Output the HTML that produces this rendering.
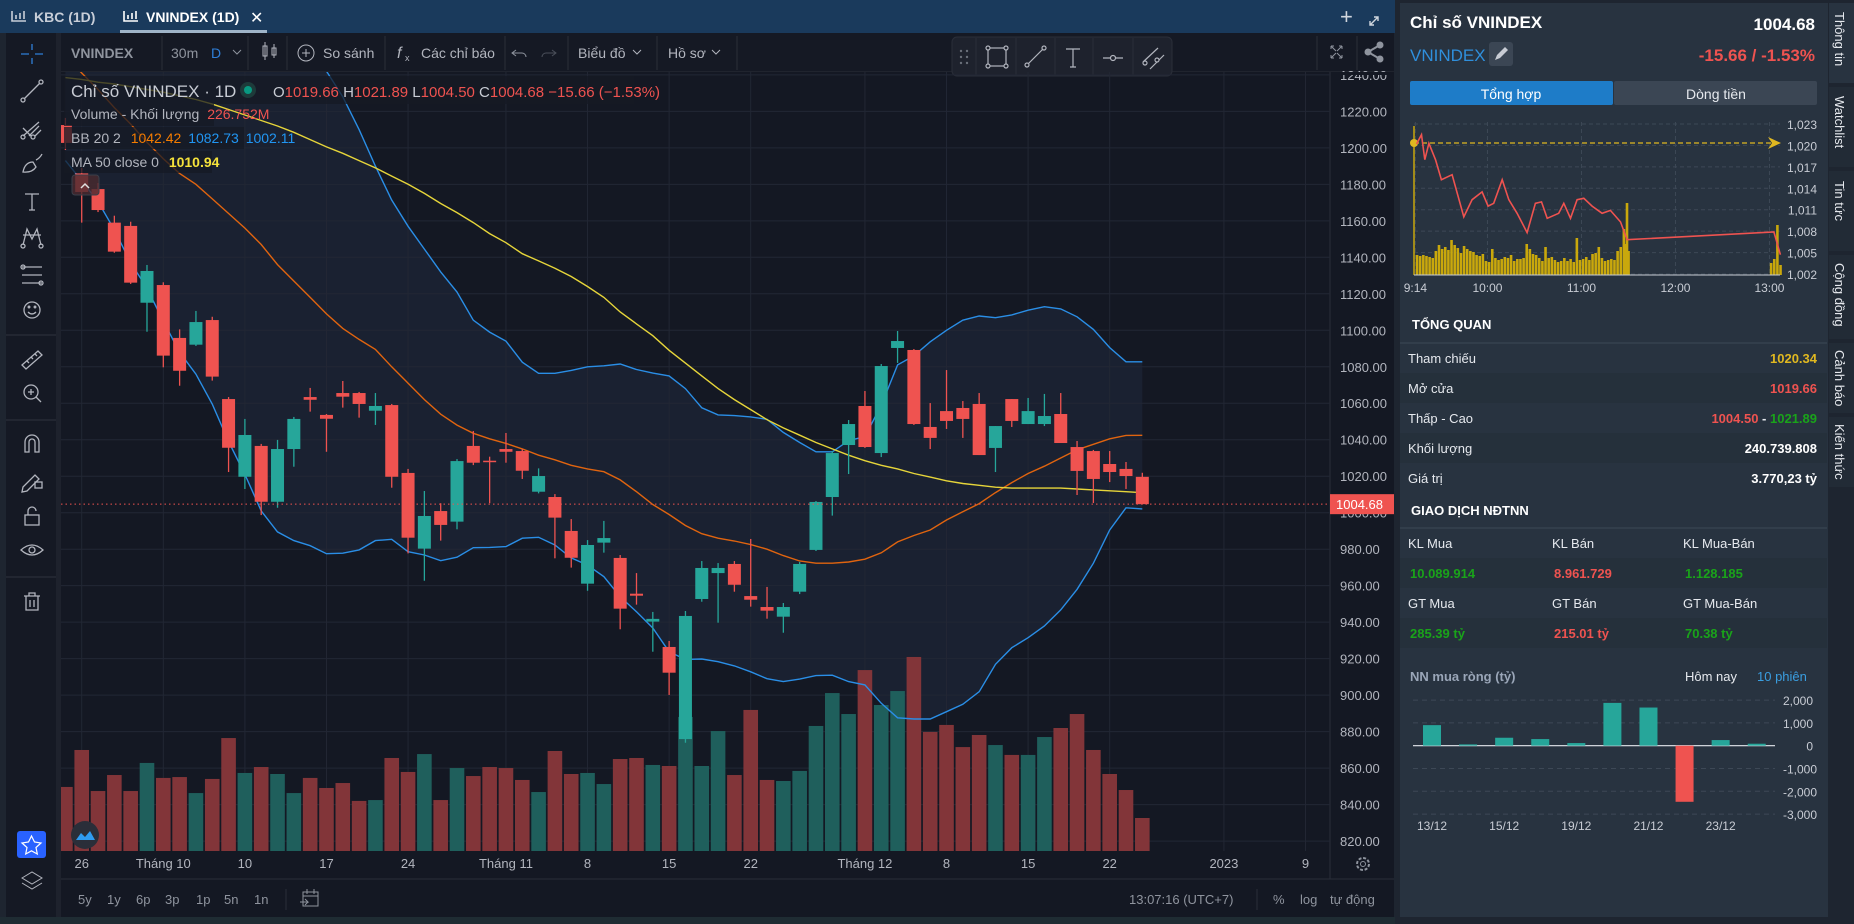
<!DOCTYPE html>
<html><head><meta charset="utf-8">
<style>
html,body{margin:0;padding:0;background:#1e2530;width:1854px;height:924px;overflow:hidden;}
svg{display:block;font-family:"Liberation Sans",sans-serif;}
</style></head>
<body>
<svg id="root" width="1854" height="924" viewBox="0 0 1854 924" xmlns="http://www.w3.org/2000/svg">
<defs>
 <clipPath id="plotClip"><rect x="61" y="72" width="1269" height="779"/></clipPath>
 <clipPath id="miniClip"><rect x="1412" y="118" width="372" height="160"/></clipPath>
</defs>
<rect x="0" y="0" width="1854" height="924" fill="#1e2530"/>
<!-- tab bar -->
<rect x="0" y="0" width="1395" height="33" fill="#1a3a5c"/>
<g>
 <path d="M12 11 v10 h14 M16 19 v-4 M20 19 v-6 M24 19 v-8" stroke="#c8ced8" stroke-width="1.6" fill="none"/>
 <text x="34" y="22" font-size="14" font-weight="bold" fill="#c8ced8">KBC (1D)</text>
</g>
<g>
 <path d="M124 11 v10 h14 M128 19 v-4 M132 19 v-6 M136 19 v-8" stroke="#ffffff" stroke-width="1.6" fill="none"/>
 <text x="146" y="22" font-size="14" font-weight="bold" fill="#ffffff">VNINDEX (1D)</text>
 <rect x="120" y="30" width="147" height="3" fill="#9fb4c8"/>
</g>
<text x="250" y="23" font-size="16" fill="#ffffff">✕</text>
<text x="1340" y="24" font-size="22" fill="#d0d6de">+</text>
<path d="M1370 25 l8 -8 M1374 17 h4 v4 M1370 21 v4 h4" stroke="#d0d6de" stroke-width="1.4" fill="none"/>

<!-- chart frame -->
<rect x="6" y="33" width="1388" height="884" fill="#171b26"/>
<rect x="6" y="33" width="50" height="884" fill="#151924"/>
<rect x="56" y="33" width="5" height="884" fill="#1e222d"/>
<rect x="61" y="33" width="1333" height="39" fill="#151924"/>
<line x1="61" y1="72" x2="1394" y2="72" stroke="#2a2e39"/>
<rect x="61" y="72" width="1269" height="779" fill="#141823"/>
<rect x="61" y="851" width="1333" height="28" fill="#141823"/>
<rect x="1330" y="72" width="64" height="779" fill="#141823"/>
<line x1="1330" y1="72" x2="1330" y2="879" stroke="#2a2e39"/>
<rect x="61" y="879" width="1333" height="38" fill="#141823"/>
<line x1="61" y1="879" x2="1394" y2="879" stroke="#2a2e39"/>
<rect x="0" y="917" width="1395" height="7" fill="#1f2c33"/>

<!-- header toolbar items -->
<g fill="#b2b5be" font-size="14">
 <text x="71" y="58" font-weight="bold" fill="#8f949e">VNINDEX</text>
 <line x1="162" y1="36" x2="162" y2="70" stroke="#2a2e39"/>
 <text x="171" y="58" fill="#8f949e">30m</text>
 <text x="211" y="58" fill="#2f7fd8">D</text>
 <path d="M233 50 l4 4 l4 -4" stroke="#8f949e" fill="none"/>
 <line x1="248" y1="36" x2="248" y2="70" stroke="#2a2e39"/>
 <g stroke="#b2b5be" fill="none"><rect x="263" y="46" width="4" height="10"/><line x1="265" y1="42" x2="265" y2="60"/><rect x="272" y="48" width="4" height="7"/><line x1="274" y1="44" x2="274" y2="58"/></g>
 <line x1="287" y1="36" x2="287" y2="70" stroke="#2a2e39"/>
 <g><circle cx="306" cy="53" r="8" stroke="#b2b5be" fill="none"/><path d="M302 53 h8 M306 49 v8" stroke="#b2b5be"/><text x="323" y="58">So sánh</text></g>
 <line x1="385" y1="36" x2="385" y2="70" stroke="#2a2e39"/>
 <g><text x="397" y="58" font-style="italic" font-size="16">f</text><text x="405" y="61" font-size="9">x</text><text x="421" y="58">Các chỉ báo</text></g>
 <line x1="505" y1="36" x2="505" y2="70" stroke="#2a2e39"/>
 <path d="M516 50 l-4 3 l4 3 M512 53 h10 a4 4 0 0 1 4 4" stroke="#8f949e" fill="none"/>
 <path d="M552 50 l4 3 l-4 3 M556 53 h-10 a4 4 0 0 0 -4 4" stroke="#4a4f5a" fill="none"/>
 <line x1="568" y1="36" x2="568" y2="70" stroke="#2a2e39"/>
 <g><text x="578" y="58">Biểu đồ</text><path d="M633 50 l4 4 l4 -4" stroke="#b2b5be" fill="none"/></g>
 <line x1="657" y1="36" x2="657" y2="70" stroke="#2a2e39"/>
 <g><text x="668" y="58">Hồ sơ</text><path d="M712 50 l4 4 l4 -4" stroke="#b2b5be" fill="none"/></g>
 <line x1="737" y1="36" x2="737" y2="70" stroke="#2a2e39"/>
</g>
<!-- floating drawing toolbar -->
<g>
 <rect x="952" y="37" width="220" height="39" rx="5" fill="#1e222d" stroke="#2a2e39"/>
 <g fill="#6a6f7a"><circle cx="961" cy="51" r="1.2"/><circle cx="967" cy="51" r="1.2"/><circle cx="961" cy="57" r="1.2"/><circle cx="967" cy="57" r="1.2"/><circle cx="961" cy="63" r="1.2"/><circle cx="967" cy="63" r="1.2"/></g>
 <g stroke="#2a2e39"><line x1="976" y1="38" x2="976" y2="75"/><line x1="1016" y1="38" x2="1016" y2="75"/><line x1="1055" y1="38" x2="1055" y2="75"/><line x1="1093" y1="38" x2="1093" y2="75"/><line x1="1133" y1="38" x2="1133" y2="75"/></g>
 <g stroke="#b2b5be" fill="none" stroke-width="1.2">
  <g><rect x="988" y="48" width="18" height="18"/><circle cx="988" cy="48" r="2" fill="#1e222d"/><circle cx="1006" cy="48" r="2" fill="#1e222d"/><circle cx="988" cy="66" r="2" fill="#1e222d"/><circle cx="1006" cy="66" r="2" fill="#1e222d"/></g>
  <g><line x1="1027" y1="65" x2="1044" y2="48"/><circle cx="1027" cy="65" r="2" fill="#1e222d"/><circle cx="1044" cy="48" r="2" fill="#1e222d"/></g>
  <g><path d="M1066 49 h14 M1073 49 v18 M1070 67 h6"/></g>
  <g><line x1="1103" y1="58" x2="1123" y2="58"/><circle cx="1113" cy="58" r="2.5" fill="#1e222d"/></g>
  <g><line x1="1143" y1="62" x2="1158" y2="48"/><line x1="1150" y1="69" x2="1164" y2="55"/><circle cx="1145" cy="63" r="2" fill="#1e222d"/><circle cx="1157" cy="60" r="2" fill="#1e222d"/></g>
 </g>
</g>
<line x1="1317" y1="36" x2="1317" y2="70" stroke="#2a2e39"/>
<path d="M1331 46 l5 5 M1331 46 h3 M1331 46 v3 M1342 46 l-5 5 M1342 46 h-3 M1342 46 v3 M1331 58 l5 -5 M1331 58 h3 M1331 58 v-3 M1342 58 l-5 -5 M1342 58 h-3 M1342 58 v-3" stroke="#8f949e" fill="none"/>
<line x1="1357" y1="36" x2="1357" y2="70" stroke="#2a2e39"/>
<g fill="#8f949e"><circle cx="1368" cy="52" r="3.5"/><circle cx="1380" cy="45" r="3.5"/><circle cx="1380" cy="59" r="3.5"/><path d="M1368 52 L1380 45 M1368 52 L1380 59" stroke="#8f949e" stroke-width="2"/></g>

<!-- left toolbar icons -->
<g stroke="#b2b5be" fill="none" stroke-width="1.3">
 <g stroke="#2f7fd8"><path d="M21 54 h8 M35 54 h8 M32 44 v6 M32 58 v6"/></g>
 <g><line x1="24" y1="99" x2="40" y2="83"/><circle cx="23" cy="100" r="2"/><circle cx="41" cy="82" r="2"/></g>
 <g><path d="M23 136 l16 -14 M23 128 l8 8 M29 136 l10 -10 M35 136 l6 -6"/><circle cx="23" cy="137" r="2"/><circle cx="33" cy="137" r="2"/></g>
 <g><path d="M23 172 q2 -10 10 -10 l3 5 q-4 6 -13 5 z M36 160 q4 -2 6 -6"/></g>
 <g><path d="M25 194 h14 M32 194 v16 M29 210 h6"/></g>
 <g><path d="M23 245 l4 -16 l5 10 l5 -10 l4 16 M23 235 h18"/><circle cx="23" cy="246" r="2"/><circle cx="41" cy="246" r="2"/></g>
 <g><path d="M22 267 h20 M22 275 h20 M22 283 h20"/><circle cx="23" cy="267" r="2"/><circle cx="41" cy="283" r="2"/></g>
 <g><circle cx="32" cy="310" r="8"/><path d="M28 312 q4 4 8 0"/><circle cx="29" cy="307" r="0.8"/><circle cx="35" cy="307" r="0.8"/></g>
 <line x1="6" y1="335" x2="56" y2="335" stroke="#2a2e39"/>
 <g><path d="M22 365 l16 -14 l4 4 l-16 14 z M27 361 l2 2 M31 357 l2 2 M35 354 l2 2"/></g>
 <g><circle cx="31" cy="392" r="7"/><path d="M36 397 l5 5 M28 392 h6 M31 389 v6"/></g>
 <line x1="6" y1="420" x2="56" y2="420" stroke="#2a2e39"/>
 <g><path d="M25 452 v-10 a7 7 0 0 1 14 0 v10 h-4 v-10 a3 3 0 0 0 -6 0 v10 z"/></g>
 <g><path d="M23 487 l12 -12 l4 4 l-12 12 l-5 1 z"/><rect x="35" y="482" width="7" height="6"/></g>
 <g><rect x="25" y="515" width="14" height="10"/><path d="M28 515 v-4 a4 4 0 0 1 8 0"/></g>
 <g><path d="M21 550 q11 -10 22 0 q-11 10 -22 0 z"/><circle cx="32" cy="550" r="3"/></g>
 <line x1="6" y1="577" x2="56" y2="577" stroke="#2a2e39"/>
 <g><path d="M24 596 h16 M29 596 v-3 h6 v3 M26 596 v14 h12 v-14 M30 600 v7 M34 600 v7"/></g>
</g>
<rect x="17" y="831" width="29" height="27" rx="3" fill="#2962ff"/>
<path d="M31.5 836 l3 6 l6.5 1 l-5 4.5 l1.3 6.5 l-5.8 -3.2 l-5.8 3.2 l1.3 -6.5 l-5 -4.5 l6.5 -1 z" fill="none" stroke="#ffffff" stroke-width="1.2"/>
<path d="M22 878 l10 -6 l10 6 l-10 6 z M22 883 l10 6 l10 -6" stroke="#b2b5be" fill="none"/>

<!-- main chart layers -->
<g id="chartLayer" clip-path="url(#plotClip)"></g>
<g id="axisLayer"></g>

<!-- legend -->
<g>
 <rect x="64" y="76" width="570" height="28" fill="#151924" opacity="0.75"/>
 <rect x="64" y="104" width="150" height="22" fill="#151924" opacity="0.75"/>
 <rect x="64" y="127" width="180" height="22" fill="#151924" opacity="0.75"/>
 <rect x="64" y="151" width="148" height="22" fill="#151924" opacity="0.75"/>
 <text x="71" y="97" font-size="17" fill="#c8ccd4">Chỉ số VNINDEX · 1D</text>
 <circle cx="248" cy="90" r="8" fill="#1d3b3a"/>
 <circle cx="248" cy="90" r="4" fill="#089981"/>
 <text x="273" y="97" font-size="15" fill="#c8ccd4">O<tspan fill="#ef5350">1019.66</tspan> H<tspan fill="#ef5350">1021.89</tspan> L<tspan fill="#ef5350">1004.50</tspan> C<tspan fill="#ef5350">1004.68</tspan> <tspan fill="#ef5350">−15.66 (−1.53%)</tspan></text>
 <text x="71" y="119" font-size="14" fill="#b2b5be">Volume - Khối lượng <tspan fill="#ef5350" dx="4">226.752M</tspan></text>
 <text x="71" y="143" font-size="14" fill="#b2b5be">BB 20 2 <tspan fill="#f57c00" dx="6">1042.42</tspan> <tspan fill="#2196f3" dx="3">1082.73</tspan> <tspan fill="#2196f3" dx="3">1002.11</tspan></text>
 <text x="71" y="167" font-size="14" fill="#b2b5be">MA 50 close 0 <tspan fill="#f5e23b" font-weight="bold" dx="6">1010.94</tspan></text>
 <rect x="72" y="175" width="27" height="20" rx="3" fill="#4a2a30" fill-opacity="0.8" stroke="#3a3f4a"/>
 <path d="M81 188 l4 -4 l4 4" stroke="#e0e0e0" fill="none" stroke-width="1.5"/>
</g>

<!-- bottom toolbar -->
<g font-size="13" fill="#8f949e">
 <text x="78" y="904">5y</text>
 <text x="107" y="904">1y</text>
 <text x="136" y="904">6p</text>
 <text x="165" y="904">3p</text>
 <text x="196" y="904">1p</text>
 <text x="224" y="904">5n</text>
 <text x="254" y="904">1n</text>
 <line x1="286" y1="889" x2="286" y2="910" stroke="#2a2e39"/>
 <path d="M303 892 h15 v14 h-15 z M303 896 h15 M307 889 v5 M314 889 v5 M300 902 h8 l-3 -3 M308 902 l-3 3" stroke="#8f949e" fill="none"/>
 <text x="1129" y="904">13:07:16 (UTC+7)</text>
 <line x1="1257" y1="889" x2="1257" y2="910" stroke="#2a2e39"/>
 <text x="1273" y="904">%</text>
 <text x="1300" y="904">log</text>
 <text x="1330" y="904">tự động</text>
</g>
<g><circle cx="1363" cy="864" r="6" stroke="#8f949e" fill="none" stroke-width="2" stroke-dasharray="3 1.7"/><circle cx="1363" cy="864" r="2.5" stroke="#8f949e" fill="none"/></g>
<g><circle cx="85" cy="835" r="14" fill="#2a2e39"/><path d="M76 840 l5 -7 l4 4 l5 -6 l5 9 z" fill="#2f9bf0"/></g>

<!-- right panel -->
<rect x="1400" y="3" width="428" height="914" fill="#283340"/>
<text x="1410" y="28" font-size="17" font-weight="bold" fill="#ffffff">Chỉ số VNINDEX</text>
<text x="1815" y="30" font-size="17" font-weight="bold" fill="#ffffff" text-anchor="end">1004.68</text>
<text x="1410" y="61" font-size="17" fill="#2f8fdc">VNINDEX</text>
<rect x="1489" y="42" width="24" height="24" rx="3" fill="#3b4654"/>
<path d="M1495 60 l2 -5 l8 -8 l3 3 l-8 8 z" fill="#c8ccd4"/>
<text x="1815" y="61" font-size="17" font-weight="bold" fill="#ef5350" text-anchor="end">-15.66 / -1.53%</text>
<rect x="1410" y="81" width="203" height="24" rx="2" fill="#1e7cc8"/>
<text x="1511" y="99" font-size="14" fill="#ffffff" text-anchor="middle">Tổng hợp</text>
<rect x="1614" y="81" width="203" height="24" rx="2" fill="#3b4654"/>
<text x="1716" y="99" font-size="14" fill="#e6e9ee" text-anchor="middle">Dòng tiền</text>
<g id="miniChart"></g>
<text x="1412" y="329" font-size="13" font-weight="bold" fill="#ffffff">TỔNG QUAN</text>
<line x1="1400" y1="343" x2="1827" y2="343" stroke="#3d4856"/>
<g font-size="13" fill="#e6e9ee">
 <rect x="1400" y="373" width="427" height="30" fill="#25303b"/>
 <rect x="1400" y="433" width="427" height="30" fill="#25303b"/>
 <text x="1408" y="363">Tham chiếu</text>
 <text x="1817" y="363" text-anchor="end" font-weight="bold" fill="#e0b820">1020.34</text>
 <text x="1408" y="393">Mở cửa</text>
 <text x="1817" y="393" text-anchor="end" font-weight="bold" fill="#ef5350">1019.66</text>
 <text x="1408" y="423">Thấp - Cao</text>
 <text x="1817" y="423" text-anchor="end" font-weight="bold"><tspan fill="#ef5350">1004.50</tspan> - <tspan fill="#1aa31a">1021.89</tspan></text>
 <text x="1408" y="453">Khối lượng</text>
 <text x="1817" y="453" text-anchor="end" font-weight="bold" fill="#ffffff">240.739.808</text>
 <text x="1408" y="483">Giá trị</text>
 <text x="1817" y="483" text-anchor="end" font-weight="bold" fill="#ffffff">3.770,23 tỷ</text>
 <text x="1411" y="515" font-weight="bold" fill="#ffffff">GIAO DỊCH NĐTNN</text>
 <line x1="1400" y1="528" x2="1827" y2="528" stroke="#3d4856"/>
 <rect x="1400" y="558" width="427" height="30" fill="#25303b"/>
 <rect x="1400" y="618" width="427" height="30" fill="#25303b"/>
 <text x="1408" y="548">KL Mua</text><text x="1552" y="548">KL Bán</text><text x="1683" y="548">KL Mua-Bán</text>
 <text x="1410" y="578" font-weight="bold" fill="#1aa31a">10.089.914</text>
 <text x="1554" y="578" font-weight="bold" fill="#ef5350">8.961.729</text>
 <text x="1685" y="578" font-weight="bold" fill="#1aa31a">1.128.185</text>
 <text x="1408" y="608">GT Mua</text><text x="1552" y="608">GT Bán</text><text x="1683" y="608">GT Mua-Bán</text>
 <text x="1410" y="638" font-weight="bold" fill="#1aa31a">285.39 tỷ</text>
 <text x="1554" y="638" font-weight="bold" fill="#ef5350">215.01 tỷ</text>
 <text x="1685" y="638" font-weight="bold" fill="#1aa31a">70.38 tỷ</text>
 <text x="1410" y="681" font-weight="bold" fill="#9aa6b8">NN mua ròng (tỷ)</text>
 <text x="1685" y="681" fill="#e6e9ee">Hôm nay</text>
 <text x="1757" y="681" fill="#3a9ee0">10 phiên</text>
</g>
<g id="nnChart"></g>
<!-- vertical tabs -->
<g font-size="13" fill="#e6e9ee">
 <rect x="1829" y="3" width="25" height="80" fill="#283340"/>
 <text transform="translate(1835,12) rotate(90)">Thông tin</text>
 <rect x="1829" y="87" width="25" height="80" fill="#222b36"/>
 <text transform="translate(1835,96) rotate(90)">Watchlist</text>
 <rect x="1829" y="171" width="25" height="80" fill="#222b36"/>
 <text transform="translate(1835,181) rotate(90)">Tin tức</text>
 <rect x="1829" y="255" width="25" height="84" fill="#222b36"/>
 <text transform="translate(1835,263) rotate(90)">Cộng đồng</text>
 <rect x="1829" y="343" width="25" height="70" fill="#222b36"/>
 <text transform="translate(1835,350) rotate(90)">Cảnh báo</text>
 <rect x="1829" y="417" width="25" height="70" fill="#222b36"/>
 <text transform="translate(1835,424) rotate(90)">Kiến thức</text>
</g>
</svg>
<script>
// ---------- main chart data ----------
const opens=[1212.5,1186.0,1177.4,1159.0,1157.2,1115.1,1124.8,1095.8,1092.1,1105.6,1062.3,1019.7,1036.6,1006.0,1034.9,1063.4,1053.6,1065.6,1065.6,1055.9,1059.0,1021.8,980.3,1000.9,995.1,1036.6,1028.5,1034.9,1033.8,1011.5,1008.6,990.0,961.1,983.6,975.2,955.6,940.3,926.4,875.9,952.7,966.9,971.9,954.3,948.3,943.0,956.7,979.6,1008.6,1037.1,1058.5,1032.7,1090.3,1089.2,1047.0,1055.7,1057.4,1059.6,1035.5,1062.3,1048.6,1048.6,1054.1,1036.0,1033.8,1026.7,1024.0,1019.66];
const highs=[1216.4,1189.0,1180.7,1162.8,1159.5,1135.8,1126.3,1100.5,1110.6,1107.4,1063.4,1051.4,1037.7,1039.9,1052.5,1068.4,1054.1,1072.2,1066.2,1065.6,1059.6,1024.0,1011.9,1005.2,1029.4,1044.8,1030.7,1043.7,1034.9,1024.3,1010.2,996.5,985.0,995.5,976.8,966.9,945.6,929.7,946.1,973.5,972.4,973.5,985.6,959.3,950.5,973.0,1006.4,1033.8,1050.8,1066.7,1081.5,1099.6,1089.7,1060.1,1078.2,1061.2,1065.6,1047.5,1062.3,1062.9,1065.1,1065.6,1039.3,1034.4,1033.8,1027.8,1021.89];
const lows=[1198.8,1159.0,1164.8,1142.5,1125.4,1099.2,1079.7,1069.6,1091.4,1072.4,1022.3,1013.0,998.7,1002.7,1025.2,1055.4,1033.4,1057.6,1052.1,1048.1,1013.7,977.7,962.7,984.7,990.9,1026.1,1005.2,1027.4,1018.5,1010.6,975.0,969.9,957.2,978.1,936.1,949.6,923.8,900.1,873.9,951.2,939.7,956.7,948.5,941.9,934.2,955.4,979.0,998.4,1021.2,1035.5,1030.5,1082.1,1048.1,1034.9,1045.9,1041.0,1031.6,1022.3,1047.0,1048.6,1047.5,1038.2,1009.7,1005.3,1016.8,1013.0,1004.50];
const closes=[1202.7,1175.8,1165.9,1143.1,1126.1,1132.5,1086.1,1077.8,1104.5,1074.6,1035.6,1042.6,1006.0,1034.9,1051.4,1061.9,1051.5,1063.6,1059.6,1058.5,1019.7,986.3,998.2,993.3,1028.3,1027.4,1028.0,1033.4,1023.0,1020.1,997.3,975.3,982.3,986.1,947.4,954.5,941.8,912.3,943.4,969.7,969.7,960.5,952.3,946.3,948.3,971.9,1005.9,1032.7,1048.6,1036.0,1080.4,1094.1,1048.6,1041.0,1050.3,1051.4,1031.6,1047.5,1050.3,1055.7,1053.0,1038.2,1022.9,1018.5,1022.3,1020.1,1004.68];
const volumes=[440,694,412,522,412,605,502,508,398,495,776,536,577,529,398,502,433,467,344,350,639,543,666,350,570,515,577,570,488,405,687,529,536,460,632,639,591,584,921,584,824,522,969,488,481,550,859,1085,941,1243,1003,1099,1333,818,866,714,797,728,660,660,783,845,941,694,529,419,226.752];
const ma50=[1238.5,1237.5,1236,1235,1233.5,1232,1230.5,1228.5,1226.5,1224,1221,1218,1215,1212,1208.5,1204.5,1200.5,1197,1193,1189,1184.5,1180,1175,1169.5,1164.5,1159,1153,1148,1142,1138,1134,1129.5,1124,1118,1110,1103.5,1097,1089,1082,1075,1068,1062,1056.5,1051,1046.5,1042.5,1038.5,1035,1031.5,1028.5,1026,1024,1021.5,1019.5,1017.5,1016,1015,1014,1013.5,1013.5,1013.5,1013.5,1013,1012.5,1012,1011.5,1010.94];
const bbMid=[1250,1241,1232,1222,1213,1203,1194,1186,1180,1172,1164,1156,1147,1136,1127,1118,1109,1101,1095,1089.5,1080,1071,1062,1054,1048,1043.5,1040.5,1038,1035,1031.5,1029,1026,1024,1022.5,1018,1011.5,1004.5,999,993,988.5,986,984.5,982.5,980,976.5,973.5,972.3,972.3,973,974.5,978,984,987.5,990.5,996,1000.5,1005,1011,1016.5,1021.5,1025.5,1030,1034.5,1037.5,1040.5,1042.4,1042.42];
const bbUpper=[1390,1380,1370,1360,1350,1340,1331,1322,1313,1304,1295,1286,1277,1268,1259,1250,1242,1228,1210,1190,1171.4,1157,1144.5,1132,1121,1105.5,1099,1094,1082.5,1076.4,1076.4,1078,1080,1080.5,1081.5,1078.5,1076.5,1075,1068,1057.5,1053.6,1053.2,1052.5,1051.2,1044,1038.5,1033.4,1033.4,1039.5,1041.7,1059,1081,1086,1093.7,1100,1105.5,1107.8,1106.9,1108.4,1111,1112.9,1111.7,1107.4,1100.5,1090.5,1082.7,1082.73];
const bbLower=[1193,1182,1170.5,1155,1137,1123,1105,1088,1076,1059.5,1039,1021,1001,989.5,984.7,981.9,977.5,977.8,979.6,984.7,985.4,978.6,976.8,973.7,975.6,980.8,981,981.4,986,986.5,982.3,975.2,971.3,964.9,953.9,945.7,936.8,923.8,919.6,919.8,918.3,916,912.8,909,907.4,908.8,910.7,910.9,907.4,905.6,895.5,887.6,886.9,886.9,890.9,895,901.9,916.9,926,931.5,937.9,946.7,958,972.3,990.5,1002.7,1002.11];
const priceTicks=[820,840,860,880,900,920,940,960,980,1000,1020,1040,1060,1080,1100,1120,1140,1160,1180,1200,1220,1240];
const timeTickIndex=[1,6,11,16,21,27,32,37,42,49,54,59,64,71,76];
const timeTickLabels=["26","Tháng 10","10","17","24","Tháng 11","8","15","22","Tháng 12","8","15","22","2023","9"];
const lastPrice=1004.68;

// ---------- mini intraday chart data ----------
const miniTimes=[14.7,17.9,20,22.6,26.8,30.6,37.4,44.9,50.2,56.6,60.4,64,69.4,73.6,78.9,85.3,90.6,94.5,98.1,105.5,108.7,113,117.2,121.5,126.8,133.2,138.5,144.9,149.1,242.8,247];
const miniPrices=[1020.2,1021.5,1018,1020.3,1018,1015.2,1015.9,1010,1012.4,1013.5,1011.5,1011.9,1015.2,1012.4,1010.5,1007.8,1011.9,1012.1,1009.8,1010.5,1011.9,1009.8,1012.4,1012.6,1011.5,1010.5,1010.9,1009.3,1006.8,1007.9,1004.7];
const miniVolTimes=[15,17,19,21,23,25,27,29,31,33,35,37,39,41,43,45,47,49,51,53,55,57,59,61,63,65,67,69,71,73,75,77,79,81,83,85,87,89,91,93,95,97,99,101,103,105,107,109,111,113,115,117,119,121,123,125,127,129,131,133,135,137,139,141,143,145,147,148,149,150,241,243,245,247];
const miniVols=[20,19,20,19,18,17,24,30,26,28,25,35,30,27,22,29,26,24,23,20,19,21,14,13,26,17,15,16,18,17,20,14,16,16,17,31,26,21,20,17,14,28,17,18,15,13,14,17,14,16,13,37,15,16,18,15,21,22,28,17,14,15,16,15,24,28,46,31,72,24,12,16,50,10];
const miniYTicks=[1002,1005,1008,1011,1014,1017,1020,1023];
const miniXTicks=[14,60,120,180,240];
const miniXLabels=["9:14","10:00","11:00","12:00","13:00"];
const miniRef=1020.34;

// ---------- foreign net buy data ----------
const nnValues=[902,58,349,291,116,1878,1674,-2460,247,87];
const nnTicks=[2000,1000,0,-1000,-2000,-3000];
const nnTickLabels=["2,000","1,000","0","-1,000","-2,000","-3,000"];
const nnDateIdx=[0,2,4,6,8];
const nnDateLabels=["13/12","15/12","19/12","21/12","23/12"];

const NS="http://www.w3.org/2000/svg";
function el(tag,attrs,parent){const e=document.createElementNS(NS,tag);for(const k in attrs)e.setAttribute(k,attrs[k]);parent.appendChild(e);return e;}

// scales
const X0=65.4, DX=16.317;
function xAt(i){return X0+DX*i;}
function yP(p){return 257.3+(1140-p)*1.8243;}
function yV(v){return 851-v/6.87;}

const chart=document.getElementById('chartLayer');
const axis=document.getElementById('axisLayer');

// band fill
let bandPts=[];
for(let i=0;i<bbUpper.length;i++)bandPts.push(xAt(i).toFixed(1)+','+yP(bbUpper[i]).toFixed(1));
for(let i=bbLower.length-1;i>=0;i--)bandPts.push(xAt(i).toFixed(1)+','+yP(bbLower[i]).toFixed(1));
const band=el('polygon',{points:bandPts.join(' '),fill:'#1a2131'},chart);



// grid
priceTicks.forEach(p=>{
  const g=el('line',{x1:61,x2:1330,y1:yP(p),y2:yP(p),stroke:'#222734','stroke-width':1},chart);
  
  
});
timeTickIndex.forEach(i=>{
  const g=el('line',{x1:xAt(i),x2:xAt(i),y1:72,y2:851,stroke:'#222734','stroke-width':1},chart);
  
  
});

// volume bars
volumes.forEach((v,i)=>{
  const up=closes[i]>=opens[i];
  const r=el('rect',{x:xAt(i)-7.3,y:yV(v),width:14.6,height:851-yV(v),fill:up?'#1f5f5c':'#823539'},chart);
  
  
});

// lines
function drawLine(arr,color,w,name){
  const d=arr.map((v,i)=>(i?'L':'M')+xAt(i).toFixed(1)+' '+yP(v).toFixed(1)).join(' ');
  const p=el('path',{d:d,stroke:color,'stroke-width':w,fill:'none'},chart);
  
  
}
drawLine(bbUpper,'#2a8ee6',1.4,'bb-upper-line');
drawLine(bbLower,'#2a8ee6',1.4,'bb-lower-line');
drawLine(bbMid,'#e0640f',1.4,'bb-basis-line');
drawLine(ma50,'#e6d53a',1.4,'ma50-line');

// candles
opens.forEach((o,i)=>{
  const c=closes[i],up=c>=o,col=up?'#26a69a':'#ef5350',x=xAt(i);
  const w=el('line',{x1:x,x2:x,y1:yP(highs[i]),y2:yP(lows[i]),stroke:col,'stroke-width':1.3},chart);
  
  
  const top=yP(Math.max(o,c)),bot=yP(Math.min(o,c));
  const b=el('rect',{x:x-6.5,y:top,width:13,height:Math.max(bot-top,1.5),fill:col},chart);
  
  
});

// last price dotted line
const lp=el('line',{x1:61,x2:1330,y1:yP(lastPrice),y2:yP(lastPrice),stroke:'#ef5350','stroke-width':1,'stroke-dasharray':'1.5 3'},chart);



// price axis labels
priceTicks.forEach(p=>{
  const t=el('text',{x:1340,y:yP(p)+5,'font-size':13,fill:'#b2b5be'},axis);
  t.textContent=p.toFixed(2);
  
  
});
const lpb=el('rect',{x:1330,y:yP(lastPrice)-10,width:64,height:20,fill:'#ef5350'},axis);


const lpt=el('text',{x:1336,y:yP(lastPrice)+5,'font-size':13,fill:'#ffffff'},axis);
lpt.textContent=lastPrice.toFixed(2);


// cover the top edge above plot
el('rect',{x:1331,y:72,width:62,height:3,fill:'#141823'},axis);

// time axis labels
timeTickIndex.forEach((idx,k)=>{
  const t=el('text',{x:xAt(idx),y:868,'font-size':13,fill:'#b2b5be','text-anchor':'middle'},axis);
  t.textContent=timeTickLabels[k];
  
  
});

// ---------- mini chart ----------
const mini=document.getElementById('miniChart');
function mx(t){return 1414.3+(t-14)*(94/60)+1.1;}
function my(p){return 124+(1023-p)*7.143;}
function mvy(v){return 275-v;}
miniYTicks.forEach(p=>{
  const g=el('line',{x1:1414,x2:1780,y1:my(p),y2:my(p),stroke:'#3d4856','stroke-dasharray':'4 3'},mini);
  
  
  const t=el('text',{x:1817,y:my(p)+5,'font-size':12,fill:'#c8ccd4','text-anchor':'end'},mini);
  t.textContent=p.toLocaleString('en-US');
  
  
});
miniXTicks.forEach((tm,k)=>{
  const g=el('line',{x1:mx(tm),x2:mx(tm),y1:122,y2:275,stroke:'#3d4856','stroke-dasharray':'4 3'},mini);
  
  
  const t=el('text',{x:mx(tm),y:292,'font-size':12,fill:'#c8ccd4','text-anchor':'middle'},mini);
  t.textContent=miniXLabels[k];
  
  
});
miniVols.forEach((v,i)=>{
  const r=el('rect',{x:mx(miniVolTimes[i])-1.2,y:mvy(v),width:2.6,height:v,fill:'#c9a80c'},mini);
  
  
});
el('line',{x1:1414,x2:1414,y1:126,y2:275,stroke:'#c9a80c','stroke-width':1.5},mini);
el('line',{x1:1414,x2:1780,y1:275,y2:275,stroke:'#c8ccd4'},mini);
const mref=el('line',{x1:1414,x2:1775,y1:my(miniRef),y2:my(miniRef),stroke:'#e0b820','stroke-dasharray':'5 3','stroke-width':1.2},mini);


el('path',{d:`M1768 ${my(miniRef)-6} l13 6 l-13 6 l4 -6 z`,fill:'#e0b820'},mini);
el('circle',{cx:1414,cy:my(miniRef),r:4,fill:'#e0b820'},mini);
const mline=el('path',{d:miniPrices.map((p,i)=>(i?'L':'M')+mx(miniTimes[i]).toFixed(1)+' '+my(p).toFixed(1)).join(' '),stroke:'#ef5350','stroke-width':1.6,fill:'none'},mini);



// ---------- foreign net buy chart ----------
const nn=document.getElementById('nnChart');
function ny(v){return 745.7-v*0.0228;}
function nx(i){return 1432+36.08*i;}
nnTicks.forEach((v,k)=>{
  const g=el('line',{x1:1413,x2:1775,y1:ny(v),y2:ny(v),stroke:v===0?'#e6e9ee':'#3d4856','stroke-dasharray':v===0?'':'5 4','stroke-width':v===0?1.2:1},nn);
  
  
  const t=el('text',{x:v<0?1817:1813,y:ny(v)+5,'font-size':12,fill:'#c8ccd4','text-anchor':'end'},nn);
  t.textContent=nnTickLabels[k];
  
  
});
nnValues.forEach((v,i)=>{
  const y=Math.min(ny(v),ny(0)),h=Math.abs(ny(v)-ny(0));
  const r=el('rect',{x:nx(i)-9,y:y,width:18,height:Math.max(h,1),fill:v>=0?'#26a69a':'#ef5350'},nn);
  
  
});
nnDateIdx.forEach((idx,k)=>{
  const t=el('text',{x:nx(idx),y:830,'font-size':12,fill:'#c8ccd4','text-anchor':'middle'},nn);
  t.textContent=nnDateLabels[k];
  
  
});
</script>
</body></html>
